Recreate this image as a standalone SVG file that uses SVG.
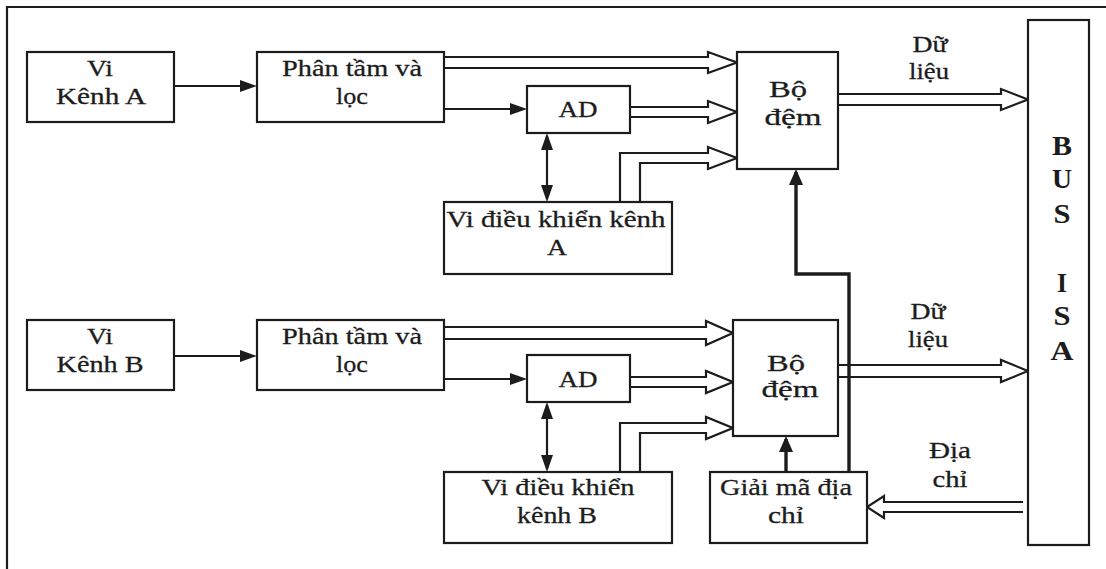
<svg xmlns="http://www.w3.org/2000/svg" width="1106" height="569" viewBox="0 0 1106 569">
<style>
.box{fill:#fff;stroke:#1c1c1c;stroke-width:2.2}
.ln{fill:none;stroke:#1c1c1c;stroke-width:2.2}
.thk{fill:none;stroke:#1c1c1c;stroke-width:3.4}
.bus{fill:none;stroke:#1c1c1c;stroke-width:2.2;stroke-linejoin:miter}
.t{font-family:"Liberation Serif","Times New Roman",serif;font-size:24px;fill:#1c1c1c;stroke:#1c1c1c;stroke-width:0.3;text-anchor:middle}
.b{font-family:"Liberation Serif","Times New Roman",serif;font-size:27px;font-weight:bold;fill:#1c1c1c;text-anchor:middle}
</style>
<defs>
<marker id="arr" markerUnits="userSpaceOnUse" markerWidth="17" markerHeight="12" refX="14" refY="6" orient="auto-start-reverse">
<path d="M0,0 L17,6 L0,12 z" fill="#1c1c1c"/>
</marker>
<marker id="arrT" markerUnits="userSpaceOnUse" markerWidth="16" markerHeight="14" refX="13" refY="7" orient="auto-start-reverse">
<path d="M0,0 L16,7 L0,14 z" fill="#1c1c1c"/>
</marker>
</defs>
<rect width="1106" height="569" fill="#fff"/>
<path class="ln" d="M7,569 V7 H1106"/>

<g id="connectors">
<path class="ln" d="M174,86 H254" marker-end="url(#arr)"/>
<path class="ln" d="M444,109 H524" marker-end="url(#arr)"/>
<path class="ln" d="M174,356 H254" marker-end="url(#arr)"/>
<path class="ln" d="M444,379 H524" marker-end="url(#arr)"/>
<path class="ln" d="M547,136 V199" marker-start="url(#arr)" marker-end="url(#arr)"/>
<path class="ln" d="M547,405 V469" marker-start="url(#arr)" marker-end="url(#arr)"/>
<path class="thk" d="M786,472 V439" marker-end="url(#arrT)"/>
<path class="thk" d="M849,472 V274 H796 V172" marker-end="url(#arrT)"/>
<path class="bus" d="M444,57 H708 V52 L737,62.5 L708,73 V68 H444"/>
<path class="bus" d="M630,107 H708 V101 L737,112 L708,123 V117 H630"/>
<path class="bus" d="M620,202 V153 H708 V147 L737,158 L708,169 V163 H640 V202"/>
<path class="bus" d="M838,94 H1001 V89 L1028,99.5 L1001,110 V105 H838"/>
<path class="bus" d="M444,327 H706 V321 L733,333 L706,345 V339 H444"/>
<path class="bus" d="M630,377 H706 V371 L733,382 L706,393 V387 H630"/>
<path class="bus" d="M620,472 V423 H706 V417 L733,428 L706,439 V433 H640 V472"/>
<path class="bus" d="M838,365 H1001 V360 L1028,371 L1001,382 V377 H838"/>
<path class="bus" d="M1023,502 H884 V496 L867,507 L884,518 V512 H1023"/>
<text class="t" x="930" y="52" textLength="35" lengthAdjust="spacingAndGlyphs">Dữ</text>
<text class="t" x="929" y="79" textLength="40" lengthAdjust="spacingAndGlyphs">liệu</text>
<text class="t" x="928" y="319" textLength="35" lengthAdjust="spacingAndGlyphs">Dữ</text>
<text class="t" x="928" y="347" textLength="40" lengthAdjust="spacingAndGlyphs">liệu</text>
<text class="t" x="950" y="458" textLength="42" lengthAdjust="spacingAndGlyphs">Địa</text>
<text class="t" x="950" y="487" textLength="35" lengthAdjust="spacingAndGlyphs">chỉ</text>
</g>

<g id="vi-kenh-a">
<rect class="box" x="27" y="52" width="147" height="70"/>
<text class="t" x="100" y="76" textLength="26" lengthAdjust="spacingAndGlyphs">Vi</text>
<text class="t" x="101" y="104" textLength="90" lengthAdjust="spacingAndGlyphs">Kênh A</text>
</g>
<g id="phan-tam-a">
<rect class="box" x="257" y="52" width="187" height="70"/>
<text class="t" x="352" y="76" textLength="140" lengthAdjust="spacingAndGlyphs">Phân tầm và</text>
<text class="t" x="352" y="104" textLength="32" lengthAdjust="spacingAndGlyphs">lọc</text>
</g>
<g id="ad-a">
<rect class="box" x="527" y="86" width="103" height="47"/>
<text class="t" x="578" y="117" textLength="39" lengthAdjust="spacingAndGlyphs">AD</text>
</g>
<g id="vi-dk-a">
<rect class="box" x="444" y="202" width="228" height="72"/>
<text class="t" x="556" y="227" textLength="219" lengthAdjust="spacingAndGlyphs">Vi điều khiển kênh</text>
<text class="t" x="557" y="255" textLength="20" lengthAdjust="spacingAndGlyphs">A</text>
</g>
<g id="bo-dem-a">
<rect class="box" x="737" y="52" width="101" height="117"/>
<text class="t" x="788" y="97" textLength="38" lengthAdjust="spacingAndGlyphs">Bộ</text>
<text class="t" x="793" y="125" textLength="57" lengthAdjust="spacingAndGlyphs">đệm</text>
</g>

<g id="vi-kenh-b">
<rect class="box" x="27" y="320" width="147" height="70"/>
<text class="t" x="100" y="344" textLength="26" lengthAdjust="spacingAndGlyphs">Vi</text>
<text class="t" x="100" y="372" textLength="87" lengthAdjust="spacingAndGlyphs">Kênh B</text>
</g>
<g id="phan-tam-b">
<rect class="box" x="257" y="320" width="187" height="70"/>
<text class="t" x="352" y="344" textLength="140" lengthAdjust="spacingAndGlyphs">Phân tầm và</text>
<text class="t" x="352" y="372" textLength="32" lengthAdjust="spacingAndGlyphs">lọc</text>
</g>
<g id="ad-b">
<rect class="box" x="527" y="355" width="103" height="47"/>
<text class="t" x="578" y="387" textLength="39" lengthAdjust="spacingAndGlyphs">AD</text>
</g>
<g id="vi-dk-b">
<rect class="box" x="444" y="472" width="228" height="71"/>
<text class="t" x="558" y="495" textLength="153" lengthAdjust="spacingAndGlyphs">Vi điều khiển</text>
<text class="t" x="557" y="523" textLength="80" lengthAdjust="spacingAndGlyphs">kênh B</text>
</g>
<g id="bo-dem-b">
<rect class="box" x="733" y="320" width="105" height="116"/>
<text class="t" x="786" y="371" textLength="38" lengthAdjust="spacingAndGlyphs">Bộ</text>
<text class="t" x="790" y="397" textLength="57" lengthAdjust="spacingAndGlyphs">đệm</text>
</g>
<g id="giai-ma">
<rect class="box" x="710" y="472" width="157" height="71"/>
<text class="t" x="786" y="495" textLength="132" lengthAdjust="spacingAndGlyphs">Giải mã địa</text>
<text class="t" x="786" y="523" textLength="36" lengthAdjust="spacingAndGlyphs">chỉ</text>
</g>

<g id="bus-isa">
<rect class="box" x="1028" y="20" width="61" height="525"/>
<text class="b" x="1062" y="155" textLength="20" lengthAdjust="spacingAndGlyphs">B</text>
<text class="b" x="1062" y="188" textLength="20" lengthAdjust="spacingAndGlyphs">U</text>
<text class="b" x="1062" y="223" textLength="17" lengthAdjust="spacingAndGlyphs">S</text>
<text class="b" x="1062" y="292" textLength="10" lengthAdjust="spacingAndGlyphs">I</text>
<text class="b" x="1062" y="325" textLength="17" lengthAdjust="spacingAndGlyphs">S</text>
<text class="b" x="1062" y="360" textLength="23" lengthAdjust="spacingAndGlyphs">A</text>
</g>
</svg>
